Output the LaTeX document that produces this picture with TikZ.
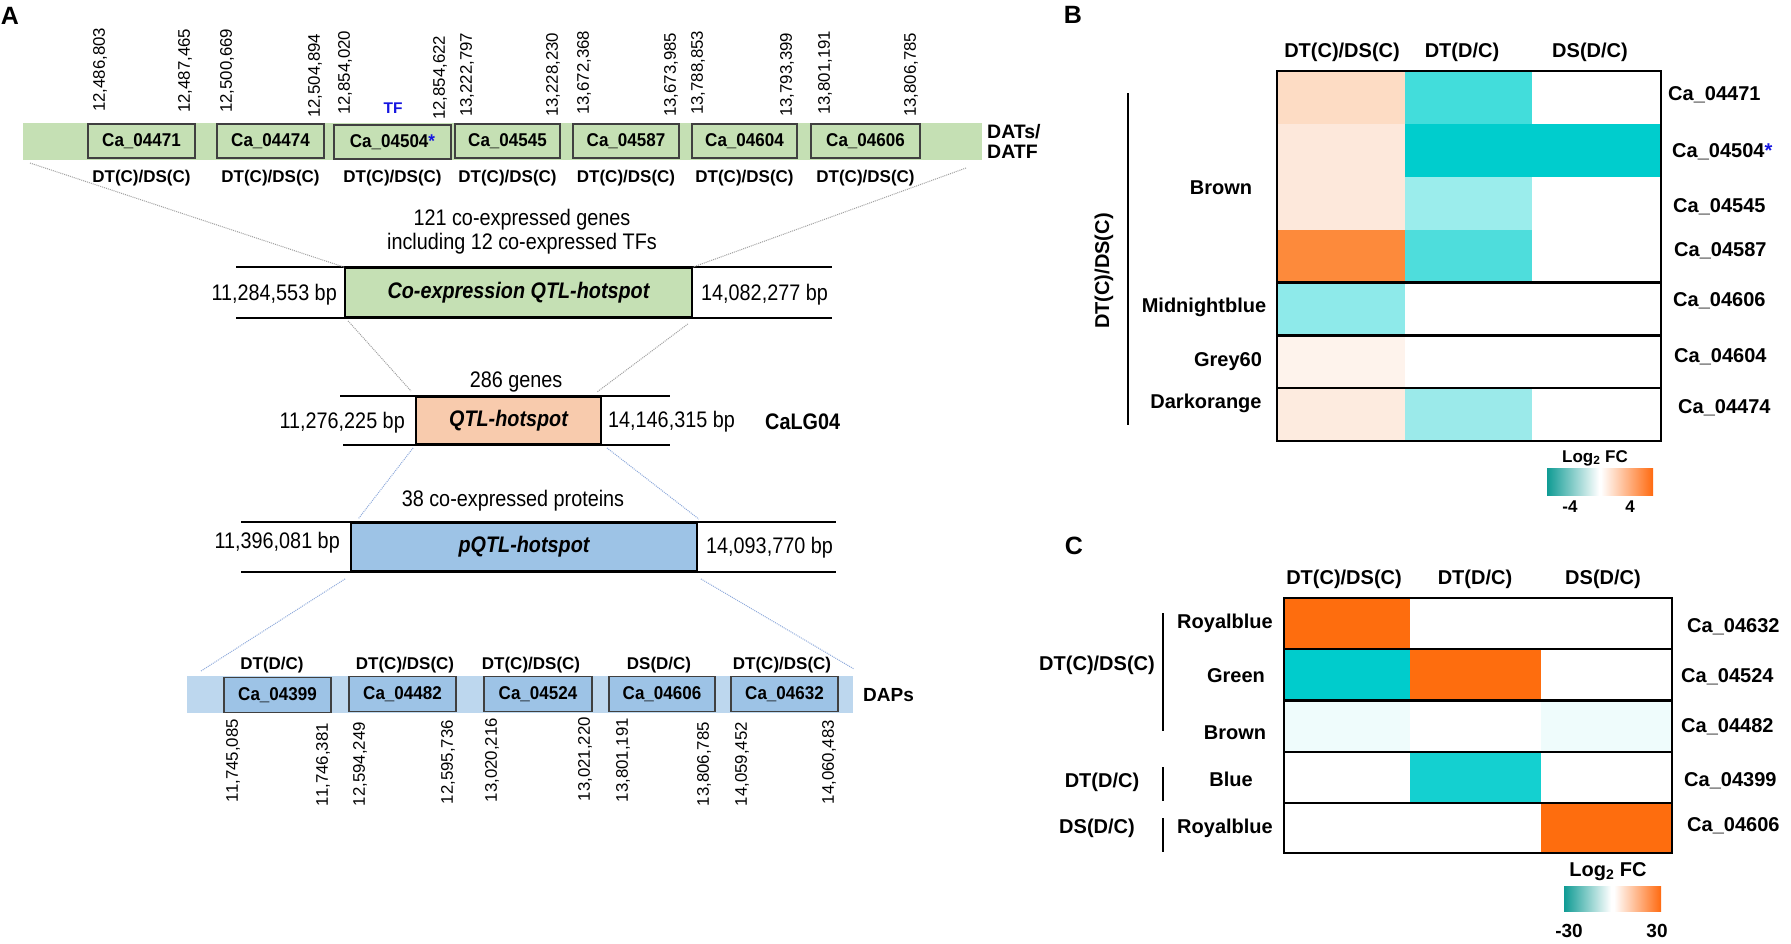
\documentclass[tikz,border=0pt]{standalone}
\usepackage{fontspec}
\setmainfont{Liberation Sans}
\newfontfamily\narrowf[FakeStretch=0.88]{Liberation Sans}
\newfontfamily\narrowg[FakeStretch=0.92]{Liberation Sans}
\newcommand\myfs[1]{\fontsize{#1}{#1}\selectfont}
\definecolor{bandgreen}{HTML}{C5E0B4}
\definecolor{qtlorange}{HTML}{F8CBAD}
\definecolor{pqtlblue}{HTML}{9DC3E6}
\definecolor{dapband}{HTML}{BDD7EE}
\definecolor{tfblue}{HTML}{1515E0}
\definecolor{lgrey}{HTML}{A0A0A0}
\definecolor{lblue}{HTML}{8FAADC}
\definecolor{hmor}{HTML}{FE6D0E}
\definecolor{legteal}{HTML}{0F9B94}
\definecolor{legor}{HTML}{FF6A10}
\begin{document}
\begin{tikzpicture}[x=1pt,y=-1pt,
  plabel/.style={font=\myfs{25}\bfseries, inner sep=0},
  gbox/.style={draw=black!75, line width=1.2pt, inner sep=0, minimum height=34pt, font=\narrowg\myfs{18.5}\bfseries},
  dtlab/.style={font=\myfs{17}\bfseries, inner sep=0},
  poslab/.style={rotate=90, inner sep=0, font=\myfs{16.8}},
  hot/.style={draw=black, line width=1.8pt, inner sep=0, font=\narrowf\myfs{22.5}\bfseries\itshape},
  chrom/.style={line width=1.8pt},
  mid/.style={font=\narrowf\myfs{22.5}, inner sep=0},
  dotg/.style={lgrey, densely dotted, line width=1pt},
  dotb/.style={lblue, densely dotted, line width=1pt},
  hlab/.style={font=\myfs{20}\bfseries, inner sep=0},
  hbox/.style={line width=2.6pt}
]
\useasboundingbox (0,0) rectangle (1791,943);
\fill[white] (0,0) rectangle (1791,943);

%% ---------------- Panel A ----------------
\node[plabel] (labA) at (10,16) {A};

% top band
\node[fill=bandgreen, minimum width=959pt, minimum height=37pt, inner sep=0] (tband) at (502.5,141.5) {};
\node[gbox, fill=bandgreen, minimum width=107pt] (g1) at (141.5,141) {Ca\_04471};
\node[gbox, fill=bandgreen, minimum width=107pt] (g2) at (270.5,141) {Ca\_04474};
\node[gbox, fill=bandgreen, minimum width=117pt] (g3) at (392.5,142) {Ca\_04504\textcolor{tfblue}{*}};
\node[gbox, fill=bandgreen, minimum width=105pt] (g4) at (507.5,141) {Ca\_04545};
\node[gbox, fill=bandgreen, minimum width=106pt] (g5) at (626,141) {Ca\_04587};
\node[gbox, fill=bandgreen, minimum width=105pt] (g6) at (744.5,141) {Ca\_04604};
\node[gbox, fill=bandgreen, minimum width=109pt] (g7) at (865.5,141) {Ca\_04606};
\foreach \n/\x in {1/141.5,2/270.5,3/392.5,4/507.5,5/626,6/744.5,7/865.5}
  \node[dtlab] (g\n l) at (\x,178) {DT(C)/DS(C)};
\node[font=\fontsize{19.5}{20}\selectfont\bfseries, anchor=west, align=left, inner sep=0] (datlab) at (987,141) {DATs/\\DATF};
\node[font=\myfs{15.5}\bfseries, text=tfblue, inner sep=0] (tf) at (393,108) {TF};

% top position labels
\node[poslab, anchor=west] (t1) at (100,112) {12,486,803};
\node[poslab, anchor=west] (t2) at (185,113) {12,487,465};
\node[poslab, anchor=west] (t3) at (227,113) {12,500,669};
\node[poslab, anchor=west] (t4) at (315,118) {12,504,894};
\node[poslab, anchor=west] (t5) at (345,115) {12,854,020};
\node[poslab, anchor=west] (t6) at (440,120) {12,854,622};
\node[poslab, anchor=west] (t7) at (467,117) {13,222,797};
\node[poslab, anchor=west] (t8) at (553,117) {13,228,230};
\node[poslab, anchor=west] (t9) at (584,115) {13,672,368};
\node[poslab, anchor=west] (t10) at (671,117) {13,673,985};
\node[poslab, anchor=west] (t11) at (698,115) {13,788,853};
\node[poslab, anchor=west] (t12) at (787,117) {13,793,399};
\node[poslab, anchor=west] (t13) at (825,115) {13,801,191};
\node[poslab, anchor=west] (t14) at (911,117) {13,806,785};

% co-expression QTL hotspot
\node[mid] (c121) at (522,220) {121 co-expressed genes};
\node[mid] (cincl) at (522,244) {including 12 co-expressed TFs};
\node[hot, fill=bandgreen, minimum width=347pt, minimum height=49pt] (cbox) at (518.5,292.5) {Co-expression QTL-hotspot};
\draw[chrom] ([xshift=-108pt]cbox.north west) -- ([xshift=139pt]cbox.north east);
\draw[chrom] ([xshift=-108pt]cbox.south west) -- ([xshift=139pt]cbox.south east);
\node[mid, anchor=east] (cl) at (337,295) {11,284,553 bp};
\node[mid, anchor=west] (cr) at (701,295) {14,082,277 bp};

% QTL hotspot
\node[mid] (g286) at (516,382) {286 genes};
\node[hot, fill=qtlorange, minimum width=185pt, minimum height=47pt] (qbox) at (508.5,420.5) {QTL-hotspot};
\draw[chrom] ([xshift=-75pt]qbox.north west) -- ([xshift=68pt]qbox.north east);
\draw[chrom] ([xshift=-72pt]qbox.south west) -- ([xshift=68pt]qbox.south east);
\node[mid, anchor=east] (ql) at (405,423) {11,276,225 bp};
\node[mid, anchor=west] (qr) at (608,422) {14,146,315 bp};
\node[mid, anchor=west, font=\narrowf\myfs{22.5}\bfseries] (calg) at (765,422) {CaLG04};

% pQTL hotspot
\node[mid] (p38) at (513,501) {38 co-expressed proteins};
\node[hot, fill=pqtlblue, minimum width=346pt, minimum height=48pt] (pbox) at (524,547) {pQTL-hotspot};
\draw[chrom] ([xshift=-109pt]pbox.north west) -- ([xshift=138pt]pbox.north east);
\draw[chrom] ([xshift=-109pt]pbox.south west) -- ([xshift=138pt]pbox.south east);
\node[mid, anchor=east] (pl) at (340,543) {11,396,081 bp};
\node[mid, anchor=west] (pr) at (706,548) {14,093,770 bp};

% DAP band
\node[fill=dapband, minimum width=666pt, minimum height=37pt, inner sep=0] (dband) at (520,694.5) {};
\node[gbox, fill=pqtlblue, minimum width=107pt, minimum height=35pt] (d1) at (277.5,695) {Ca\_04399};
\node[gbox, fill=pqtlblue, minimum width=107pt, minimum height=35pt] (d2) at (402.5,694) {Ca\_04482};
\node[gbox, fill=pqtlblue, minimum width=108pt, minimum height=35pt] (d3) at (538,694) {Ca\_04524};
\node[gbox, fill=pqtlblue, minimum width=106pt, minimum height=35pt] (d4) at (662,694) {Ca\_04606};
\node[gbox, fill=pqtlblue, minimum width=107pt, minimum height=35pt] (d5) at (784.5,694) {Ca\_04632};
\node[dtlab] (d1l) at (272,665) {DT(D/C)};
\node[dtlab] (d2l) at (405,665) {DT(C)/DS(C)};
\node[dtlab] (d3l) at (531,665) {DT(C)/DS(C)};
\node[dtlab] (d4l) at (659,665) {DS(D/C)};
\node[dtlab] (d5l) at (782,665) {DT(C)/DS(C)};
\node[font=\myfs{19}\bfseries, anchor=west, inner sep=0] (daps) at (863,695) {DAPs};

% bottom position labels
\node[poslab, anchor=east] (b1) at (233,719) {11,745,085};
\node[poslab, anchor=east] (b2) at (323,723) {11,746,381};
\node[poslab, anchor=east] (b3) at (360,722) {12,594,249};
\node[poslab, anchor=east] (b4) at (448,720) {12,595,736};
\node[poslab, anchor=east] (b5) at (492,718) {13,020,216};
\node[poslab, anchor=east] (b6) at (585,717) {13,021,220};
\node[poslab, anchor=east] (b7) at (623,718) {13,801,191};
\node[poslab, anchor=east] (b8) at (704,722) {13,806,785};
\node[poslab, anchor=east] (b9) at (742,722) {14,059,452};
\node[poslab, anchor=east] (b10) at (829,720) {14,060,483};

% zoom connectors
\coordinate (zl1) at (30,163);
\coordinate (zr1) at (966,168);
\coordinate (zl4) at (201,671);
\coordinate (zr4) at (854,669);
\draw[dotg] (zl1) -- (cbox.north west);
\draw[dotg] (zr1) -- (cbox.north east);
\draw[dotg] ([shift={(4,3)}]cbox.south west) -- ([shift={(-4,-5)}]qbox.north west);
\draw[dotg] ([shift={(-5,6)}]cbox.south east) -- ([shift={(-5,-4)}]qbox.north east);
\draw[dotb] ([shift={(-2,3)}]qbox.south west) -- ([shift={(8,-3)}]pbox.north west);
\draw[dotb] ([shift={(5,3)}]qbox.south east) -- ([shift={(1,-3)}]pbox.north east);
\draw[dotb] ([shift={(-5,7)}]pbox.south west) -- (zl4);
\draw[dotb] ([shift={(3,7)}]pbox.south east) -- (zr4);

%% ---------------- Panel B ----------------
\node[plabel] (labB) at (1073,15) {B};
\def\Ya{71}\def\Yb{123.86}\def\Yc{176.71}\def\Yd{229.57}\def\Ye{282.43}\def\Yf{335.29}\def\Yg{388.14}\def\Yh{441}
\def\Xa{1277}\def\Xb{1405}\def\Xc{1532}\def\Xd{1661}
\fill[white] (\Xa,\Ya) rectangle (\Xd,\Yh);
% row 1
\fill[fill={rgb,255:red,253;green,220;blue,196}] (\Xa,\Ya) rectangle (\Xb,\Yb);
\fill[fill={rgb,255:red,66;green,221;blue,219}] (\Xb,\Ya) rectangle (\Xc,\Yb);
% row 2
\fill[fill={rgb,255:red,253;green,232;blue,219}] (\Xa,\Yb) rectangle (\Xb,\Yc);
\fill[fill={rgb,255:red,0;green,205;blue,205}] (\Xb,\Yb) rectangle (\Xd,\Yc);
% row 3
\fill[fill={rgb,255:red,253;green,232;blue,219}] (\Xa,\Yc) rectangle (\Xb,\Yd);
\fill[fill={rgb,255:red,155;green,237;blue,236}] (\Xb,\Yc) rectangle (\Xc,\Yd);
% row 4
\fill[fill={rgb,255:red,253;green,138;blue,59}] (\Xa,\Yd) rectangle (\Xb,\Ye);
\fill[fill={rgb,255:red,78;green,221;blue,220}] (\Xb,\Yd) rectangle (\Xc,\Ye);
% row 5
\fill[fill={rgb,255:red,142;green,234;blue,234}] (\Xa,\Ye) rectangle (\Xb,\Yf);
% row 6
\fill[fill={rgb,255:red,254;green,243;blue,236}] (\Xa,\Yf) rectangle (\Xb,\Yg);
% row 7
\fill[fill={rgb,255:red,253;green,235;blue,223}] (\Xa,\Yg) rectangle (\Xb,\Yh);
\fill[fill={rgb,255:red,155;green,234;blue,234}] (\Xb,\Yg) rectangle (\Xc,\Yh);
\draw[hbox] (\Xa,\Ya) rectangle (\Xd,\Yh);
\draw[hbox] (\Xa,\Ye) -- (\Xd,\Ye);
\draw[hbox] (\Xa,\Yf) -- (\Xd,\Yf);
\draw[hbox] (\Xa,\Yg) -- (\Xd,\Yg);

\node[hlab] (bh1) at (1342,52) {DT(C)/DS(C)};
\node[hlab] (bh2) at (1462,52) {DT(D/C)};
\node[hlab] (bh3) at (1590,52) {DS(D/C)};
\node[hlab, rotate=90] (bgrp) at (1104,271) {DT(C)/DS(C)};
\coordinate (bv1) at (1128,93);
\coordinate (bv2) at (1128,425);
\draw[line width=1.4pt] (bv1) -- (bv2);
\node[hlab] (bm1) at (1221,188) {Brown};
\node[hlab] (bm2) at (1204,307) {Midnightblue};
\node[hlab] (bm3) at (1228,362) {Grey60};
\node[hlab] (bm4) at (1206,403) {Darkorange};
\node[hlab, anchor=west] (br1) at (1668,95) {Ca\_04471};
\node[hlab, anchor=west] (br2) at (1672,152) {Ca\_04504\textcolor{tfblue}{*}};
\node[hlab, anchor=west] (br3) at (1673,207) {Ca\_04545};
\node[hlab, anchor=west] (br4) at (1674,251) {Ca\_04587};
\node[hlab, anchor=west] (br5) at (1673,301) {Ca\_04606};
\node[hlab, anchor=west] (br6) at (1674,357) {Ca\_04604};
\node[hlab, anchor=west] (br7) at (1678,408) {Ca\_04474};
% legend B
\node[font=\myfs{17}\bfseries, inner sep=0] (blegt) at (1595,458) {Log\textsubscript{2} FC};
\shade[left color=legteal, right color=white] (1547,468) rectangle (1599,495);
\shade[left color=white, right color=legor] (1601,468) rectangle (1653,495);
\node[font=\myfs{17}\bfseries, inner sep=0] (blm) at (1570,507) {-4};
\node[font=\myfs{17}\bfseries, inner sep=0] (blp) at (1630,507) {4};

%% ---------------- Panel C ----------------
\node[plabel] (labC) at (1074,546) {C};
\def\Za{598}\def\Zb{649}\def\Zc{700.5}\def\Zd{752}\def\Ze{803}\def\Zf{853}
\def\Wa{1284}\def\Wb{1410}\def\Wc{1541}\def\Wd{1672}
\fill[white] (\Wa,\Za) rectangle (\Wd,\Zf);
\fill[hmor] (\Wa,\Za) rectangle (\Wb,\Zb);
\fill[fill={rgb,255:red,0;green,204;blue,204}] (\Wa,\Zb) rectangle (\Wb,\Zc);
\fill[hmor] (\Wb,\Zb) rectangle (\Wc,\Zc);
\fill[fill={rgb,255:red,239;green,252;blue,252}] (\Wa,\Zc) rectangle (\Wb,\Zd);
\fill[fill={rgb,255:red,239;green,252;blue,252}] (\Wc,\Zc) rectangle (\Wd,\Zd);
\fill[fill={rgb,255:red,20;green,208;blue,208}] (\Wb,\Zd) rectangle (\Wc,\Ze);
\fill[hmor] (\Wc,\Ze) rectangle (\Wd,\Zf);
\draw[hbox] (\Wa,\Za) rectangle (\Wd,\Zf);
\draw[hbox] (\Wa,\Zb) -- (\Wd,\Zb);
\draw[hbox] (\Wa,\Zc) -- (\Wd,\Zc);
\draw[hbox] (\Wa,\Zd) -- (\Wd,\Zd);
\draw[hbox] (\Wa,\Ze) -- (\Wd,\Ze);

\node[hlab] (ch1) at (1344,579) {DT(C)/DS(C)};
\node[hlab] (ch2) at (1475,579) {DT(D/C)};
\node[hlab] (ch3) at (1603,579) {DS(D/C)};
\node[hlab] (cg1) at (1097,665) {DT(C)/DS(C)};
\node[hlab] (cg2) at (1102,782) {DT(D/C)};
\node[hlab] (cg3) at (1097,828) {DS(D/C)};
\coordinate (cv1a) at (1163,613); \coordinate (cv1b) at (1163,731);
\coordinate (cv2a) at (1163,767); \coordinate (cv2b) at (1163,801);
\coordinate (cv3a) at (1163,818); \coordinate (cv3b) at (1163,852);
\draw[line width=1.4pt] (cv1a) -- (cv1b);
\draw[line width=1.4pt] (cv2a) -- (cv2b);
\draw[line width=1.4pt] (cv3a) -- (cv3b);
\node[hlab] (cm1) at (1225,623) {Royalblue};
\node[hlab] (cm2) at (1236,676) {Green};
\node[hlab] (cm3) at (1235,733) {Brown};
\node[hlab] (cm4) at (1231,779) {Blue};
\node[hlab] (cm5) at (1225,828) {Royalblue};
\node[hlab, anchor=west] (cr1) at (1687,627) {Ca\_04632};
\node[hlab, anchor=west] (cr2) at (1681,677) {Ca\_04524};
\node[hlab, anchor=west] (cr3) at (1681,727) {Ca\_04482};
\node[hlab, anchor=west] (cr4) at (1684,781) {Ca\_04399};
\node[hlab, anchor=west] (cr5) at (1687,826) {Ca\_04606};
% legend C
\node[font=\myfs{20}\bfseries, inner sep=0] (clegt) at (1608,872) {Log\textsubscript{2} FC};
\shade[left color=legteal, right color=white] (1564,886) rectangle (1611,911);
\shade[left color=white, right color=legor] (1614,886) rectangle (1661,911);
\node[font=\myfs{19}\bfseries, inner sep=0] (clm) at (1569,931) {-30};
\node[font=\myfs{19}\bfseries, inner sep=0] (clp) at (1657,931) {30};
\end{tikzpicture}
\end{document}
